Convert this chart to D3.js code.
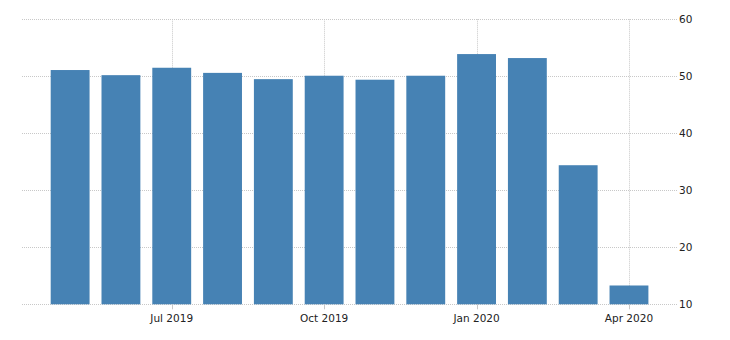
<!DOCTYPE html>
<html><head><meta charset="utf-8">
<script src="https://cdn.jsdelivr.net/npm/d3@7"></script>
<style>body{margin:0;background:#fff}svg{display:block}text{font-family:"DejaVu Sans",Verdana,sans-serif;font-size:10.5px;fill:#222}</style>
</head><body><svg id="c" width="730" height="340"></svg>
<script>
const months = ["2019-05","2019-06","2019-07","2019-08","2019-09","2019-10","2019-11","2019-12","2020-01","2020-02","2020-03","2020-04"];
const values = [51.1, 50.2, 51.5, 50.6, 49.5, 50.1, 49.4, 50.1, 53.9, 53.2, 34.4, 13.3];
const xTickMonths = ["2019-07","2019-10","2020-01","2020-04"];
const xTickLabels = ["Jul 2019","Oct 2019","Jan 2020","Apr 2020"];
const yTicks = [10, 20, 30, 40, 50, 60];

const svg = d3.select("#c");
const gridLeft = 22, gridRight = 677;
const x = d3.scaleBand().domain(months).range([44.6, 654.5]).paddingInner(0.235).paddingOuter(0.12);
const y = d3.scaleLinear().domain([10, 60]).range([304.3, 19.3]);

const grid = svg.append("g");
grid.selectAll("line.h").data(yTicks).join("line")
  .attr("x1", gridLeft).attr("x2", gridRight)
  .attr("y1", d => Math.round(y(d)) + 0.5).attr("y2", d => Math.round(y(d)) + 0.5)
  .attr("stroke", "#c8c8c8").attr("stroke-dasharray", "1,1");
grid.selectAll("line.v").data(xTickMonths).join("line")
  .attr("x1", d => Math.round(x(d) + x.bandwidth()/2) + 0.5).attr("x2", d => Math.round(x(d) + x.bandwidth()/2) + 0.5)
  .attr("y1", y(60)).attr("y2", y(10))
  .attr("stroke", "#c8c8c8").attr("stroke-dasharray", "1,1");

svg.append("g").selectAll("rect").data(values).join("rect")
  .attr("x", (d, i) => x(months[i]))
  .attr("width", x.bandwidth())
  .attr("y", d => y(d))
  .attr("height", d => y(10) - y(d))
  .attr("fill", "#4682b4");

// x axis
const xa = svg.append("g");
xa.selectAll("line").data(xTickMonths).join("line")
  .attr("x1", d => Math.round(x(d) + x.bandwidth()/2) + 0.5).attr("x2", d => Math.round(x(d) + x.bandwidth()/2) + 0.5)
  .attr("y1", y(10)).attr("y2", y(10) + 5).attr("stroke", "#c8c8c8");
xa.selectAll("text").data(xTickMonths).join("text")
  .attr("x", d => x(d) + x.bandwidth()/2).attr("y", 322)
  .attr("text-anchor", "middle").text((d, i) => xTickLabels[i]);

// y axis on right
svg.append("g").selectAll("text").data(yTicks).join("text")
  .attr("x", 679).attr("y", d => y(d) + 4)
  .text(d => d);
</script></body></html>
